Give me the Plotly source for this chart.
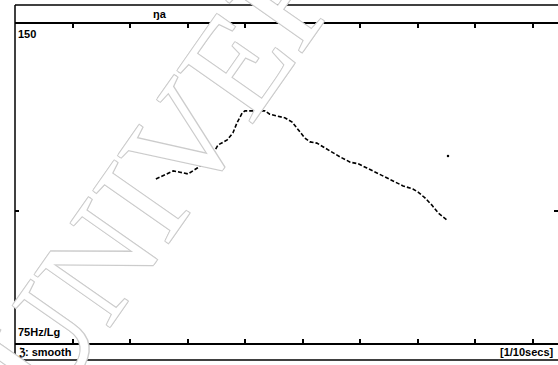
import math
import plotly.graph_objects as go

# pitch contour data (time in seconds, F0 in Hz)
times = [0.245, 0.261, 0.275, 0.287, 0.301, 0.317, 0.330, 0.343, 0.353, 0.369,
         0.379, 0.386, 0.395, 0.400, 0.417, 0.435, 0.443, 0.456, 0.470, 0.482,
         0.492, 0.504, 0.513, 0.525, 0.539, 0.553, 0.565, 0.583, 0.597, 0.612,
         0.630, 0.643, 0.661, 0.675, 0.692, 0.701, 0.713, 0.725, 0.736, 0.751]
pitch = [107.1, 108.1, 109.0, 108.7, 108.3, 109.7, 110.9, 112.8, 115.3, 116.6,
         118.4, 121.0, 123.6, 124.2, 124.2, 124.2, 123.3, 122.8, 122.3, 121.2,
         119.2, 117.1, 116.1, 115.8, 114.6, 113.3, 112.4, 111.1, 110.7, 109.7,
         108.5, 107.6, 106.4, 105.5, 104.8, 104.1, 102.8, 101.2, 99.5, 98.0]
stray_times = [0.753]
stray_pitch = [112.6]

y_min, y_max = 75, 150
header_label = "ŋa"
top_label = "150"
bottom_label = "75Hz/Lg"
footer_left = "ℨ: smooth"
footer_right = "[1/10secs]"
watermark = "UNIVERSITY"

FONT = dict(family="Liberation Sans, Arial, sans-serif", size=11, color="black")

fig = go.Figure()
fig.add_trace(go.Scatter(x=times, y=pitch, mode="lines",
                         line=dict(color="black", width=1.6, dash="4px,2px"),
                         hoverinfo="skip", showlegend=False))
fig.add_trace(go.Scatter(x=stray_times, y=stray_pitch, mode="markers",
                         marker=dict(color="black", size=2.5),
                         hoverinfo="skip", showlegend=False))

fig.update_layout(
    width=558, height=365,
    margin=dict(l=15, r=0, t=24, b=22),
    paper_bgcolor="white", plot_bgcolor="white",
    xaxis=dict(range=[0, 543 / 575], showgrid=False, zeroline=False,
               showline=True, linecolor="black", linewidth=1.5,
               mirror="allticks", ticks="inside", ticklen=4, tickwidth=1.5,
               tickcolor="black", dtick=0.1, tick0=0, showticklabels=False),
    yaxis=dict(type="log", range=[math.log10(y_min), math.log10(y_max)],
               showgrid=False, zeroline=False, showline=False,
               mirror="ticks", ticks="inside", ticklen=4, tickwidth=1.5,
               tickcolor="black", tickvals=[100], showticklabels=False),
)

def px_x(X):
    return (X - 15) / 543

def py(Y):
    return (343 - Y) / 319

shapes = [
    dict(type="line", xref="paper", yref="paper", x0=0, x1=1.01, y0=py(5), y1=py(5),
         line=dict(color="black", width=1.5)),
    dict(type="line", xref="paper", yref="paper", x0=0, x1=1.01, y0=py(360), y1=py(360),
         line=dict(color="black", width=1.5)),
    dict(type="line", xref="paper", yref="paper", x0=0, x1=0, y0=py(5), y1=py(360),
         line=dict(color="black", width=1.5)),
]
fig.update_layout(shapes=shapes)

ann = [
    dict(text=watermark, xref="paper", yref="paper", x=px_x(252), y=py(42),
         showarrow=False, textangle=-55, xanchor="center", yanchor="middle",
         font=dict(family="Liberation Serif, serif", size=140, color="white",
                   shadow="1px 1px 0 #cccccc, -1px -1px 0 #cccccc, 1px -1px 0 #cccccc, -1px 1px 0 #cccccc")),
    dict(text="<b>%s</b>" % header_label, xref="paper", yref="paper", x=px_x(160), y=py(14),
         showarrow=False, xanchor="center", yanchor="middle", font=FONT),
    dict(text="<b>%s</b>" % top_label, xref="paper", yref="paper", x=0, y=py(26),
         showarrow=False, xanchor="left", yanchor="top", font=FONT, xshift=1),
    dict(text="<b>%s</b>" % bottom_label, xref="paper", yref="paper", x=0, y=py(340),
         showarrow=False, xanchor="left", yanchor="bottom", font=FONT, xshift=1),
    dict(text="<b>%s</b>" % footer_left, xref="paper", yref="paper", x=0, y=py(352),
         showarrow=False, xanchor="left", yanchor="middle", font=FONT, xshift=1),
    dict(text="<b>%s</b>" % footer_right, xref="paper", yref="paper", x=1, y=py(352),
         showarrow=False, xanchor="right", yanchor="middle", font=FONT, xshift=-2),
]
fig.update_layout(annotations=ann)

fig.write_html("out.html", config={"displayModeBar": False},
               post_script="document.body.style.margin='0';document.body.style.overflow='hidden';")
